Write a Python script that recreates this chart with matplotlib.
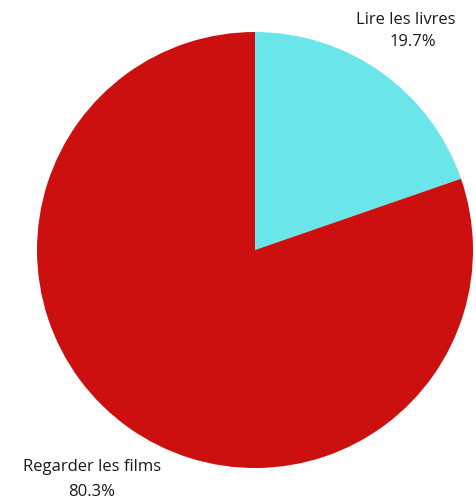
import matplotlib.pyplot as plt

# données
labels = ['Lire les livres', 'Regarder les films']
values = [19.7, 80.3]
colors = ['#6ae5ea', '#cc1010']

fig = plt.figure(figsize=(4.76, 4.99), dpi=100)
ax = fig.add_axes([0, 0, 1, 1])

ax.pie(values, colors=colors, startangle=90, counterclock=False,
       center=(255, 249), radius=218, frame=True)
ax.set_xlim(0, 476)
ax.set_ylim(0, 499)
ax.axis('off')

font = ['Open Sans', 'DejaVu Sans']
style = dict(ha='center', va='center', fontsize=12, family=font,
             weight='medium', color='#1a1a1a')
ax.text(406, 479, labels[0], **style)
ax.text(413, 457, f'{values[0]}%', **style)
ax.text(92, 32, labels[1], **style)
ax.text(92, 7, f'{values[1]}%', **style)

fig.savefig('out.png', dpi=100)
